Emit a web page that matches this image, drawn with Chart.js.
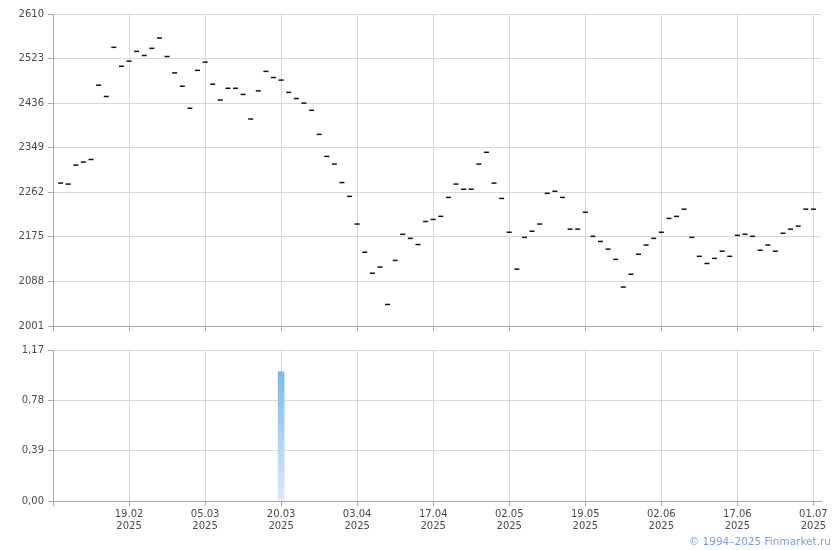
<!DOCTYPE html>
<html>
<head>
<meta charset="utf-8">
<script src="https://cdn.jsdelivr.net/npm/chart.js@4"></script>
<style>
  body { margin: 0; background: #fff; }
  #wrap { position: relative; width: 840px; height: 550px; }
  canvas { position: absolute; left: 0; }
  #price { top: 0; }
  #volume { top: 340px; }
  #copy { position: absolute; right: 9px; top: 535px; font: 10.5px "DejaVu Sans", sans-serif; color: #7b9be6; }
</style>
</head>
<body>
<div id="wrap">
  <canvas id="price" width="840" height="340"></canvas>
  <canvas id="volume" width="840" height="210"></canvas>
  <div id="copy">© 1994–2025 Finmarket.ru</div>
</div>
<script>
// closing prices, one per trading day (100 days)
const closes = [
  2280, 2278, 2315, 2321, 2326, 2471, 2449, 2545, 2508, 2518,
  2537, 2529, 2543, 2563, 2527, 2495, 2469, 2426, 2500, 2516,
  2473, 2442, 2465, 2465, 2453, 2405, 2460, 2498, 2486, 2481,
  2457, 2445, 2436, 2422, 2375, 2332, 2317, 2281, 2254, 2200,
  2145, 2104, 2116, 2043, 2129, 2180, 2172, 2160, 2205, 2209,
  2215, 2252, 2278, 2268, 2268, 2317, 2340, 2280, 2250, 2184,
  2112, 2174, 2186, 2200, 2260, 2264, 2252, 2190, 2190, 2223,
  2176, 2166, 2151, 2131, 2077, 2102, 2141, 2159, 2172, 2184,
  2211, 2215, 2229, 2174, 2137, 2123, 2133, 2147, 2137, 2178,
  2180, 2176, 2149, 2159, 2147, 2182, 2190, 2196, 2229, 2229
];

// volume: only one day has a non-zero value
const volumeIdx = [29];
const volumeVals = [1.0];

// x tick labels (every 10th trading day)
const tickIdx = [9, 19, 29, 39, 49, 59, 69, 79, 89, 99];
const tickDays = ['19.02', '05.03', '20.03', '03.04', '17.04', '02.05', '19.05', '02.06', '17.06', '01.07'];
const tickYears = ['2025', '2025', '2025', '2025', '2025', '2025', '2025', '2025', '2025', '2025'];

const priceTicks = [2001, 2088, 2175, 2262, 2349, 2436, 2523, 2610];
const volumeTicks = [0, 0.39, 0.78, 1.17];

const gridColor = '#d6d9dd';
const axisColor = '#a6aab2';
const textColor = '#4a4a4a';
const font = { family: 'DejaVu Sans', size: 10 };

function xScale(showLabels, height) {
  return {
    type: 'linear',
    min: -1,
    max: 100,
    offset: false,
    afterBuildTicks: s => { s.ticks = [-1].concat(tickIdx).map(v => ({ value: v })); },
    afterFit: s => { s.height = height; },
    grid: { color: gridColor, tickColor: axisColor, tickLength: 5, offset: false },
    border: { color: axisColor },
    ticks: {
      autoSkip: false,
      maxRotation: 0,
      padding: 2,
      color: textColor,
      font: { family: font.family, size: font.size, lineHeight: 1.25 },
      callback: v => {
        const k = tickIdx.indexOf(v);
        if (!showLabels || k < 0) return '';
        return [tickDays[k], tickYears[k]];
      }
    }
  };
}

function yScale(tickList, fmt) {
  return {
    min: tickList[0],
    max: tickList[tickList.length - 1],
    afterBuildTicks: s => { s.ticks = tickList.map(v => ({ value: v })); },
    afterFit: s => { s.width = 53; },
    grid: { color: gridColor, tickColor: axisColor, tickLength: 5 },
    border: { color: axisColor },
    ticks: { color: textColor, font: font, padding: 4, callback: fmt }
  };
}

new Chart(document.getElementById('price'), {
  type: 'scatter',
  data: {
    datasets: [{
      data: closes.map((v, i) => ({ x: i, y: v })),
      pointStyle: 'line',
      radius: 2.5,
      borderWidth: 1.5,
      borderColor: '#111',
      backgroundColor: '#111'
    }]
  },
  options: {
    responsive: false,
    animation: false,
    layout: { padding: { top: 14, right: 19, left: 0, bottom: 0 } },
    plugins: { legend: { display: false }, tooltip: { enabled: false } },
    scales: {
      x: xScale(false, 14),
      y: yScale(priceTicks, v => String(v))
    }
  }
});

new Chart(document.getElementById('volume'), {
  type: 'bar',
  data: {
    datasets: [{
      data: volumeIdx.map((x, k) => ({ x: x, y: volumeVals[k] })),
      barThickness: 6,
      backgroundColor: ctx => {
        const area = ctx.chart.chartArea;
        if (!area) return '#9fcdf3';
        const g = ctx.chart.ctx.createLinearGradient(0, area.bottom, 0, area.top + 20);
        g.addColorStop(0, '#dde9f6');
        g.addColorStop(1, '#78b9ef');
        return g;
      }
    }]
  },
  options: {
    responsive: false,
    animation: false,
    layout: { padding: { top: 9, right: 19, left: 0, bottom: 0 } },
    plugins: { legend: { display: false }, tooltip: { enabled: false } },
    scales: {
      x: xScale(true, 49),
      y: yScale(volumeTicks, v => v.toFixed(2).replace('.', ','))
    }
  }
});
</script>
</body>
</html>
